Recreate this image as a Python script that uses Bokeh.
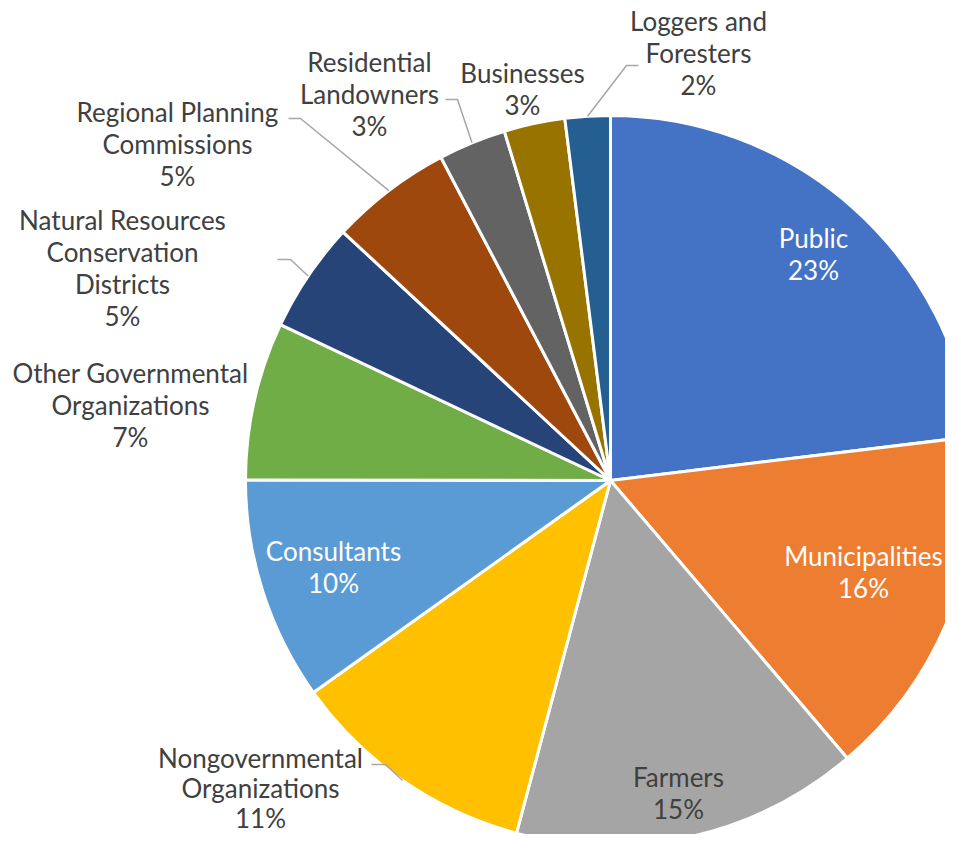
import math
from bokeh.plotting import figure
from bokeh.models import Range1d
from bokeh.core.properties import value
from bokeh.embed import file_html
from bokeh.resources import INLINE

# ---- data ----
categories = ["Public", "Municipalities", "Farmers", "Nongovernmental Organizations",
              "Consultants", "Other Governmental Organizations",
              "Natural Resources Conservation Districts", "Regional Planning Commissions",
              "Residential Landowners", "Businesses", "Loggers and Foresters"]
values = [23.1, 15.7, 15.4, 11.0, 9.9, 7.0, 4.9, 5.4, 3.0, 2.7, 2.0]
label_lines = [["Public"], ["Municipalities"], ["Farmers"], ["Nongovernmental", "Organizations"],
               ["Consultants"], ["Other Governmental", "Organizations"],
               ["Natural Resources", "Conservation", "Districts"], ["Regional Planning", "Commissions"],
               ["Residential", "Landowners"], ["Businesses"], ["Loggers and", "Foresters"]]

# ---- styles / layout ----
colors = ["#4472C4", "#ED7D31", "#A5A5A5", "#FFC000", "#5B9BD5", "#70AD47",
          "#264478", "#9E480E", "#636363", "#997300", "#255E91"]
text_colors = ["white", "white", "#404040", "#404040", "white", "#404040",
               "#404040", "#404040", "#404040", "#404040", "#404040"]
# label block: (center x, first line y) in picture pixels
label_pos = [(813, 237), (863, 555), (678, 776), (260, 757), (333, 550), (130, 372),
             (122, 219), (177, 111), (369, 61), (522, 72), (698, 20)]
line_h = [32, 32, 32, 30, 32, 32, 32, 32, 32, 32, 32]
# leader line start and elbow (picture pixels), None = no leader
leaders = [None, None, None, ((371, 764), (385, 764)), None, None,
           ((277, 259), (290, 259)), ((288, 118), (300, 118)),
           ((445, 99), (457, 99)), None, ((638, 65), (626, 65))]
CX, CY, R = 610, 480, 365
FONT = "Lato"
FS = "26px"

W, H = 945, 834
def Y(py):
    return H - py

p = figure(width=W, height=H, output_backend="svg", toolbar_location=None,
           x_range=Range1d(0, W), y_range=Range1d(0, H),
           x_axis_type=None, y_axis_type=None, min_border=0)
p.grid.visible = False
p.outline_line_color = None

total = sum(values)
cum = 0.0
starts, ends, mids = [], [], []
for v in values:
    a0 = math.pi / 2 - 2 * math.pi * cum / total
    cum += v
    a1 = math.pi / 2 - 2 * math.pi * cum / total
    starts.append(a0)
    ends.append(a1)
    mids.append((a0 + a1) / 2)

p.wedge(x=[CX] * len(values), y=[Y(CY)] * len(values), radius=R,
        start_angle=starts, end_angle=ends, direction="clock",
        fill_color=colors, line_color="white", line_width=3)

# leader lines
for i, ld in enumerate(leaders):
    if ld is None:
        continue
    (sx, sy), (ex, ey) = ld
    px = CX + R * math.cos(mids[i])
    py = CY - R * math.sin(mids[i])
    p.line([sx, ex, px], [Y(sy), Y(ey), Y(py)], line_color="#A6A6A6", line_width=1.5)

# labels
for i, lines in enumerate(label_lines):
    pct = f"{round(values[i] / total * 100)}%"
    all_lines = lines + [pct]
    x0, y0 = label_pos[i]
    xs = [x0] * len(all_lines)
    ys = [Y(y0 + k * line_h[i]) for k in range(len(all_lines))]
    p.text(x=xs, y=ys, text=all_lines, text_align="center", text_baseline="middle",
           text_font=value(FONT), text_font_size=FS, text_color=text_colors[i])

open("out.html", "w").write(file_html(p, INLINE))
